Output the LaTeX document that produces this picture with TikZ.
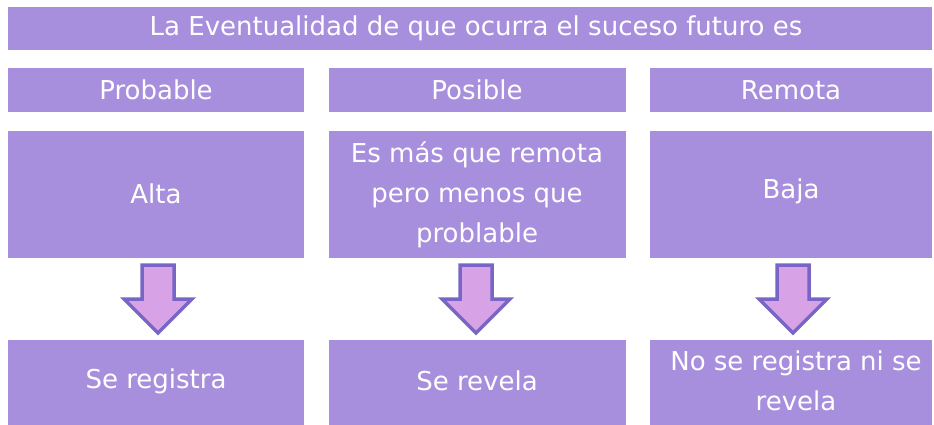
\documentclass[tikz,border=0pt]{standalone}
\usepackage{fontspec}
\setmainfont{DejaVu Sans}
\begin{document}
\begin{tikzpicture}[x=1pt,y=-1pt,
  box/.style={fill=boxpurple,draw=none},
  lbl/.style={text=white,font=\fontsize{26}{40}\selectfont,align=center,inner sep=0pt},
  arr/.style={fill=arrowpink,draw=arrowedge,line width=3.5pt,line join=miter}]
\definecolor{boxpurple}{HTML}{A88FDD}
\definecolor{arrowpink}{HTML}{D8A2E6}
\definecolor{arrowedge}{HTML}{7866C6}
\useasboundingbox (0,0) rectangle (934,425);
\fill[white] (0,0) rectangle (934,425);
% title
\path[box] (8,7) rectangle (932,50);
\node[lbl] (title) at (476,28.5) {La Eventualidad de que ocurra el suceso futuro es};
% row 2
\path[box] (8,68) rectangle (304,112);
\path[box] (329,68) rectangle (626,112);
\path[box] (650,68) rectangle (932,112);
\node[lbl] (h1) at (156,90) {Probable};
\node[lbl] (h2) at (477,90) {Posible};
\node[lbl] (h3) at (791,90) {Remota};
% row 3
\path[box] (8,131) rectangle (304,258);
\path[box] (329,131) rectangle (626,258);
\path[box] (650,131) rectangle (932,258);
\node[lbl] (m1) at (156,194) {Alta};
\node[lbl] (m2) at (477,195) {Es más que remota\\pero menos que\\problable};
\node[lbl] (m3) at (791,191) {Baja};
% row 4
\path[box] (8,340) rectangle (304,425);
\path[box] (329,340) rectangle (626,425);
\path[box] (650,340) rectangle (932,425);
\node[lbl] (b1) at (156,381) {Se registra};
\node[lbl] (b2) at (477,381) {Se revela};
\node[lbl] (b3) at (796,381) {No se registra ni se\\revela};
% arrows
\foreach \c/\n in {158/1,476/2,793/3}{
  \draw[arr] (\c-16,265) -- (\c+16,265) -- (\c+16,299) -- (\c+34,299) -- (\c,333) -- (\c-34,299) -- (\c-16,299) -- cycle;
}
\end{tikzpicture}
\end{document}
